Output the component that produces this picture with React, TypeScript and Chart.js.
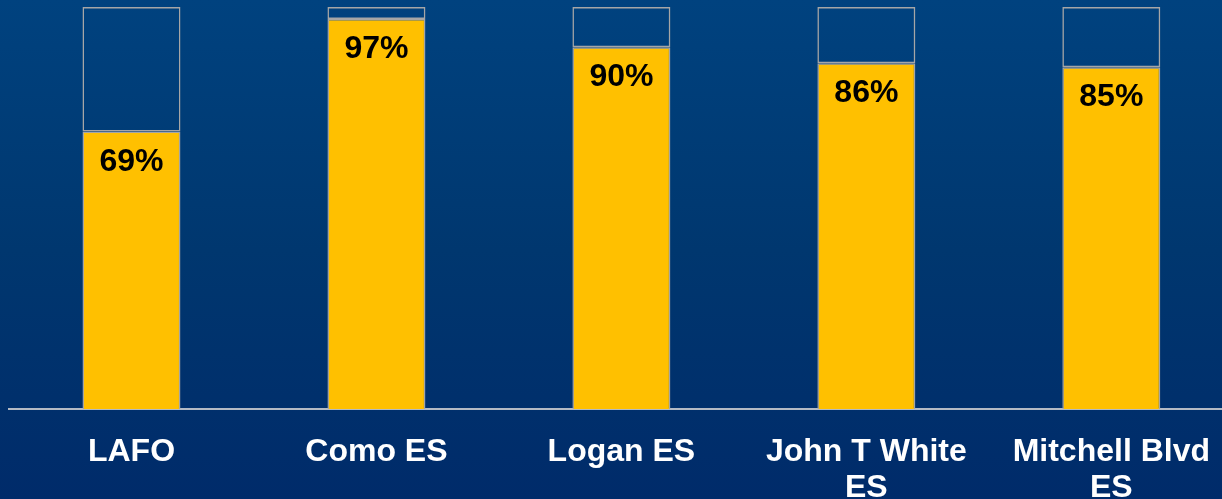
import React, { useEffect, useRef } from "react";
import { Chart, registerables } from "chart.js";

Chart.register(...registerables);

const categories: (string | string[])[] = [
  "LAFO",
  "Como ES",
  "Logan ES",
  ["John T White", "ES"],
  ["Mitchell Blvd", "ES"],
];
const percentValues = [69, 97, 90, 86, 85];
const remainingValues = [31, 3, 10, 14, 15];
const yTicksMax = 100;

const FONT = '"Liberation Sans", Arial, Helvetica, sans-serif';

const valueLabelPlugin = {
  id: "valueLabels",
  afterDatasetsDraw(chart: any) {
    const ctx = chart.ctx;
    const meta = chart.getDatasetMeta(0);
    ctx.save();
    ctx.font = `bold 32px ${FONT}`;
    ctx.fillStyle = "#000000";
    ctx.textAlign = "center";
    ctx.textBaseline = "alphabetic";
    meta.data.forEach((bar: any, i: number) => {
      ctx.fillText(`${percentValues[i]}%`, bar.x, bar.y + 39);
    });
    ctx.restore();
  },
};

export default function App() {
  const canvasRef = useRef<HTMLCanvasElement | null>(null);

  useEffect(() => {
    if (!canvasRef.current) return;
    const chart = new Chart(canvasRef.current, {
      type: "bar",
      data: {
        labels: categories,
        datasets: [
          {
            label: "Percent",
            data: percentValues,
            backgroundColor: "#FFC000",
            borderColor: "#A6A6A6",
            borderWidth: 1.5,
            borderSkipped: "bottom",
            barPercentage: 0.4,
            categoryPercentage: 1,
          },
          {
            label: "Remaining",
            data: remainingValues,
            backgroundColor: "rgba(0,0,0,0)",
            borderColor: "#A6A6A6",
            borderWidth: 1.5,
            borderSkipped: false,
            barPercentage: 0.4,
            categoryPercentage: 1,
          },
        ],
      },
      options: {
        responsive: false,
        animation: false,
        devicePixelRatio: 1,
        layout: { padding: { left: 9, right: 0, top: 7, bottom: 0 } },
        plugins: {
          legend: { display: false },
          tooltip: { enabled: false },
        },
        scales: {
          x: {
            stacked: true,
            grid: { display: false, drawTicks: false },
            border: { display: true, color: "#B4BAC4", width: 2 },
            ticks: {
              color: "#FFFFFF",
              font: { family: FONT, size: 32, weight: "bold", lineHeight: 1.125 },
              padding: 25,
              maxRotation: 0,
              minRotation: 0,
              autoSkip: false,
            },
            afterFit: (scale: any) => {
              scale.height = 90;
            },
          },
          y: {
            stacked: true,
            display: false,
            min: 0,
            max: yTicksMax,
          },
        },
      },
      plugins: [valueLabelPlugin],
    });
    return () => chart.destroy();
  }, []);

  return (
    <div
      style={{
        position: "fixed",
        left: 0,
        top: 0,
        width: 1222,
        height: 499,
        overflow: "hidden",
        background: "linear-gradient(to bottom, #00427F 0%, #00376F 50%, #002B6A 100%)",
      }}
    >
      <canvas ref={canvasRef} width={1235} height={499} style={{ display: "block" }} />
    </div>
  );
}
